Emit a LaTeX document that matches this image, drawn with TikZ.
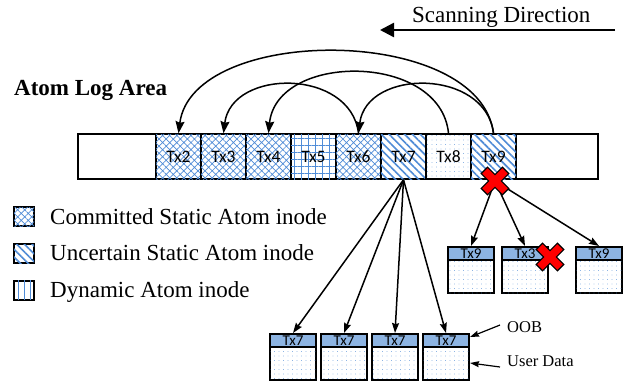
\documentclass[tikz,border=0pt]{standalone}
\usepackage{fontspec}
\setmainfont{Liberation Serif}
\newfontfamily\cellfont{Carlito}
\usetikzlibrary{arrows.meta,patterns.meta}
\definecolor{pblue}{RGB}{80,140,215}
\definecolor{headblue}{RGB}{141,180,226}
\newcommand{\drawredx}[1]{%
  \begin{scope}[shift={(#1)},rotate=45]
    \draw[fill=red,line width=1.2pt,line join=miter]
      (-4.5,-15) -- (4.5,-15) -- (4.5,-4.5) -- (15,-4.5) -- (15,4.5) -- (4.5,4.5)
      -- (4.5,15) -- (-4.5,15) -- (-4.5,4.5) -- (-15,4.5) -- (-15,-4.5) -- (-4.5,-4.5) -- cycle;
  \end{scope}}
\begin{document}
\begin{tikzpicture}[x=1pt,y=-1pt,
  cell/.style={draw,line width=1.5pt,minimum width=45pt,minimum height=45pt,inner sep=0pt,
    font=\cellfont\fontsize{17.5}{17.5}\selectfont},
  committed/.style={cell,fill=white,postaction={pattern={Hatch[angle=45,distance=5pt,line width=0.7pt]},pattern color=pblue}},
  uncertain/.style={cell,fill=white,postaction={pattern={Lines[angle=-45,distance=5.5pt,line width=1.6pt]},pattern color=pblue}},
  dynamic/.style={cell,fill=white,postaction={pattern={Hatch[angle=0,distance=7pt,line width=0.8pt]},pattern color=pblue}},
  dotted cell/.style={cell,fill=white,postaction={pattern={Dots[distance=4.5pt,radius=0.45pt]},pattern color=pblue}},
  pagebody/.style={draw,line width=2pt,minimum width=46pt,minimum height=46pt,inner sep=0pt,
    fill=white,postaction={pattern={Dots[distance=4.5pt,radius=0.45pt]},pattern color=pblue}},
  pagehead/.style={draw,line width=1.5pt,minimum width=46pt,minimum height=13pt,inner sep=0pt,
    fill=headblue,font=\cellfont\fontsize{15}{15}\selectfont},
  legsq/.style={draw,line width=2pt,minimum width=20pt,minimum height=19pt,inner sep=0pt,fill=white},
  legtext/.style={anchor=base west,inner sep=0pt,font=\fontsize{23}{27}\selectfont},
  arcarrow/.style={line width=1.5pt,-{Stealth[length=12pt,width=9pt,inset=1.5pt]}},
  fan/.style={line width=1.5pt,-{Stealth[length=10pt,width=7pt,inset=1.2pt]}},
  thinarrow/.style={line width=1.2pt,-{Stealth[length=9pt,width=6pt,inset=1pt]}}
]
\useasboundingbox (0,0) rectangle (639,383);

% scanning direction
\node[legtext] (scan) at (412,22) {Scanning Direction};
\coordinate (sa) at (615,30);
\coordinate (sb) at (380,30);
\draw[line width=2.5pt,-{Triangle[length=14pt,width=14pt]}] (sa) -- (sb);

% title
\node[anchor=base west,inner sep=0pt,font=\bfseries\fontsize{23}{27}\selectfont] (title) at (14,95) {Atom Log Area};

% log bar
\node[draw,line width=2pt,minimum width=520pt,minimum height=45pt,inner sep=0pt] (bar) at (338,156.5) {};
\node[committed] (c2) at (178.5,156.5) {Tx2};
\node[committed] (c3) at (223.5,156.5) {Tx3};
\node[committed] (c4) at (268.5,156.5) {Tx4};
\node[dynamic] (c5) at (313.5,156.5) {Tx5};
\node[committed] (c6) at (358.5,156.5) {Tx6};
\node[uncertain] (c7) at (403.5,156.5) {Tx7};
\node[dotted cell] (c8) at (448.5,156.5) {Tx8};
\node[uncertain] (c9) at (493.5,156.5) {Tx9};

% arcs
\draw[arcarrow] (c9.north) .. controls +(-14,-109) and +(14,-109) .. (c2.north);
\draw[arcarrow] (c8.north) .. controls +(-8,-81) and +(8,-81) .. (c4.north);
\draw[arcarrow] (c6.north) .. controls +(-8,-65) and +(8,-65) .. (c3.north);
\draw[arcarrow] (c9.north) .. controls +(-8,-65) and +(8,-65) .. (c6.north);

% legend
\node[legsq,postaction={pattern={Hatch[angle=45,distance=5pt,line width=0.7pt]},pattern color=pblue}] (l1) at (24,216.5) {};
\node[legsq,postaction={pattern={Lines[angle=-45,distance=5.5pt,line width=1.6pt]},pattern color=pblue}] (l2) at (24,253.5) {};
\node[legsq,postaction={pattern={Lines[angle=90,distance=6pt,line width=0.8pt]},pattern color=pblue}] (l3) at (24,290) {};
\node[legtext] (t1) at (50,224.6) {Committed Static Atom inode};
\node[legtext] (t2) at (50,260.6) {Uncertain Static Atom inode};
\node[legtext] (t3) at (50,297.6) {Dynamic Atom inode};

% Tx7 pages
\foreach \i/\x in {1/293,2/344,3/395,4/446}{
  \node[pagebody,anchor=north] (q\i) at (\x,333) {};
  \node[pagehead,anchor=north] (qh\i) at (\x,333) {Tx7};
}
\foreach \i in {1,2,3,4}{
  \draw[fan] (c7.south) -- (qh\i.north);
}

% OOB / User Data labels
\node[anchor=base west,inner sep=0pt,font=\fontsize{16.5}{18}\selectfont] (oob) at (507,332.5) {OOB};
\node[anchor=base west,inner sep=0pt,font=\fontsize{16.5}{18}\selectfont] (ud) at (507,366.5) {User Data};
\coordinate (oobs) at (500,325);
\coordinate (oobt) at (470,337);
\coordinate (uds) at (500,367);
\coordinate (udt) at (470,363);
\draw[thinarrow] (oobs) -- (oobt);
\draw[thinarrow] (uds) -- (udt);

% Tx9 recovery pages
\node[pagebody,anchor=north] (r1) at (471,246) {};
\node[pagehead,anchor=north] (rh1) at (471,246) {Tx9};
\node[pagebody,anchor=north] (r2) at (525,246) {};
\node[pagehead,anchor=north] (rh2) at (525,246) {Tx3};
\node[pagebody,anchor=north] (r3) at (599,246) {};
\node[pagehead,anchor=north] (rh3) at (599,246) {Tx9};

\coordinate (xa) at (495,181);
\coordinate (xb) at (550,257);
\draw[fan] (xa) -- (rh1.north);
\draw[fan] (xa) -- (rh2.north);
\draw[fan] (xa) -- (rh3.north);

\drawredx{xa}
\drawredx{xb}
\end{tikzpicture}
\end{document}
